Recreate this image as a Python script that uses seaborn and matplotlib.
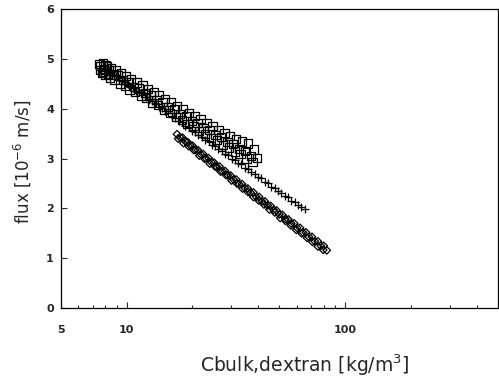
import numpy as np
import pandas as pd
import matplotlib
matplotlib.use("Agg")
import matplotlib.pyplot as plt
from matplotlib.ticker import NullFormatter, FixedLocator, LogLocator
import seaborn as sns

# Series 1: open squares
sq_c = [7.5, 7.8, 8.1, 8.5, 8.9, 9.4, 9.9, 10.5, 11.1, 11.8, 12.5, 13.3, 14.1,
        15.0, 16.0, 17.0, 18.1, 19.3, 20.5, 21.8, 23.2, 24.7, 26.3, 28.0,
        29.8, 31.7, 33.7, 35.9, 38.2,
        7.6, 7.9, 8.3, 8.7, 9.1, 9.6, 10.2, 10.8, 11.4, 12.1, 12.9, 13.7,
        14.6, 15.5, 16.5, 17.5, 18.7, 19.9, 21.1, 22.5, 23.9, 25.5, 27.1,
        28.9, 30.7, 32.7, 34.8, 37.0, 39.4,
        7.7, 8.0, 8.4, 8.8, 9.3, 9.8, 10.3, 10.9, 11.6, 12.3, 13.1, 13.9,
        14.8, 15.8, 16.8, 17.9, 19.0, 20.2, 21.5, 22.9, 24.3, 25.9, 27.6,
        29.4, 31.2, 33.2, 35.3, 37.6,
        7.6, 7.8, 8.0, 8.2]
sq_flux = [4.90, 4.91, 4.86, 4.82, 4.77, 4.72, 4.66, 4.60, 4.53, 4.47, 4.40,
           4.33, 4.27, 4.20, 4.13, 4.06, 3.99, 3.92, 3.86, 3.79, 3.72, 3.65,
           3.58, 3.51, 3.45, 3.40, 3.34, 3.30, 3.18,
           4.86, 4.80, 4.77, 4.69, 4.67, 4.58, 4.54, 4.44, 4.41, 4.31, 4.27,
           4.17, 4.13, 4.04, 3.99, 3.90, 3.85, 3.75, 3.72, 3.61, 3.58, 3.47,
           3.43, 3.33, 3.29, 3.19, 3.15, 3.05, 3.01,
           4.72, 4.68, 4.62, 4.58, 4.50, 4.46, 4.39, 4.34, 4.25, 4.21, 4.12,
           4.07, 3.98, 3.92, 3.83, 3.78, 3.70, 3.65, 3.56, 3.50, 3.42, 3.37,
           3.27, 3.22, 3.14, 3.09, 3.00, 2.93,
           4.78, 4.74, 4.88, 4.70]

# Series 2: plus signs
pl_c = [8.0, 8.3, 8.6, 8.9, 9.2, 9.5, 9.8, 10.1, 10.4, 10.7, 11.0, 11.4, 11.8,
        12.2, 12.6, 13.0, 13.5, 14.0, 14.5, 15.0, 15.5, 16.1, 16.7, 17.3,
        17.9, 18.5, 19.2, 19.9, 20.6, 21.3, 22.1, 22.9, 23.7, 24.5, 25.4,
        26.3, 27.2, 28.2, 29.2, 30.2, 31.3, 32.4, 33.5, 34.7, 35.9, 37.2,
        38.5, 39.9, 41.3, 42.8, 44.3, 45.9, 47.5, 49.2, 51.0, 52.8, 54.7,
        56.7, 58.7, 60.8, 63.0, 65.3]
pl_flux = [4.80, 4.75, 4.69, 4.66, 4.62, 4.56, 4.53, 4.49, 4.44, 4.41, 4.36,
           4.33, 4.27, 4.24, 4.18, 4.15, 4.11, 4.04, 4.01, 3.95, 3.91, 3.85,
           3.82, 3.75, 3.73, 3.66, 3.63, 3.56, 3.53, 3.47, 3.44, 3.37, 3.35,
           3.28, 3.25, 3.19, 3.16, 3.09, 3.07, 3.00, 2.98, 2.91, 2.89, 2.82,
           2.79, 2.73, 2.70, 2.63, 2.61, 2.54, 2.51, 2.44, 2.41, 2.35, 2.32,
           2.25, 2.22, 2.15, 2.13, 2.06, 2.03, 1.98]

# Series 3: open diamonds
dm_c = [17.0, 17.5, 18.0, 18.5, 19.0, 19.5, 20.0, 20.6, 21.2, 21.8, 22.4,
        23.0, 23.7, 24.4, 25.1, 25.8, 26.6, 27.4, 28.2, 29.0, 29.9, 30.8,
        31.7, 32.7, 33.7, 34.7, 35.8, 36.9, 38.0, 39.2, 40.4, 41.6, 42.9,
        44.2, 45.6, 47.0, 48.5, 50.0, 51.6, 53.2, 54.9, 56.6, 58.4, 60.2,
        62.1, 64.1, 66.1, 68.2, 70.4, 72.6, 74.9, 77.3, 79.7, 82.3,
        17.2, 18.2, 19.2, 20.3, 21.5, 22.7, 24.0, 25.4, 26.9, 28.5, 30.2,
        32.0, 33.9, 35.9, 38.0, 40.2, 42.5, 45.0, 47.6, 50.4, 53.3, 56.4,
        59.7, 63.2, 66.9, 70.8, 74.9, 79.3]
dm_flux = [3.49, 3.43, 3.42, 3.35, 3.33, 3.27, 3.26, 3.18, 3.17, 3.09, 3.09,
           3.01, 3.01, 2.93, 2.92, 2.84, 2.84, 2.75, 2.75, 2.67, 2.66, 2.58,
           2.58, 2.49, 2.49, 2.41, 2.40, 2.32, 2.32, 2.23, 2.23, 2.14, 2.14,
           2.06, 2.05, 1.97, 1.96, 1.88, 1.87, 1.79, 1.78, 1.70, 1.70, 1.61,
           1.61, 1.52, 1.52, 1.43, 1.43, 1.34, 1.34, 1.25, 1.25, 1.16,
           3.40, 3.31, 3.25, 3.17, 3.06, 3.00, 2.90, 2.84, 2.74, 2.67, 2.56,
           2.50, 2.40, 2.33, 2.23, 2.16, 2.08, 1.98, 1.92, 1.81, 1.75, 1.66,
           1.57, 1.50, 1.41, 1.33, 1.24, 1.17]

x_ticks = [5, 10, 100]
y_ticks = [0, 1, 2, 3, 4, 5, 6]

sns.set_style("ticks")
plt.rcParams["font.family"] = ["DejaVu Sans"]
plt.rcParams["xtick.direction"] = "in"
plt.rcParams["ytick.direction"] = "in"

fig = plt.figure(figsize=(4.99, 3.79), dpi=100)
ax = fig.add_axes([0.122, 0.187, 0.876, 0.789])

sq = pd.DataFrame({"c": sq_c, "flux": sq_flux})
pl = pd.DataFrame({"c": pl_c, "flux": pl_flux})
dm = pd.DataFrame({"c": dm_c, "flux": dm_flux})

sns.scatterplot(data=pl, x="c", y="flux", marker="+", s=38, color="black",
                linewidth=0.9, ax=ax, zorder=2)
sns.scatterplot(data=sq, x="c", y="flux", marker="s", s=36, facecolor="none",
                edgecolor="black", linewidth=0.9, ax=ax, zorder=3)
sns.scatterplot(data=dm, x="c", y="flux", marker="D", s=15, facecolor="none",
                edgecolor="black", linewidth=0.9, ax=ax, zorder=3)

ax.set_xscale("log")
ax.set_xlim(5, 500)
ax.set_ylim(0, 6)
ax.xaxis.set_major_locator(FixedLocator(x_ticks))
ax.set_xticklabels([str(v) for v in x_ticks])
ax.xaxis.set_minor_locator(LogLocator(base=10, subs=np.arange(2, 10)))
ax.xaxis.set_minor_formatter(NullFormatter())
ax.set_yticks(y_ticks)
ax.set_yticklabels([str(v) for v in y_ticks])

ax.tick_params(which="major", length=4, width=0.8, labelsize=8)
ax.tick_params(axis="y", which="major", pad=5)
ax.tick_params(axis="x", which="major", pad=12)
ax.tick_params(which="minor", length=2.5, width=0.8)
for lab in ax.get_xticklabels() + ax.get_yticklabels():
    lab.set_fontweight("bold")

for sp in ax.spines.values():
    sp.set_visible(True)
    sp.set_linewidth(0.9)
    sp.set_color("black")

ax.set_xlabel("Cbulk,dextran [kg/m$^3$]", fontsize=13.5)
ax.set_ylabel("flux [10$^{-6}$ m/s]", fontsize=12)
ax.xaxis.set_label_coords(0.558, -0.148)
ax.yaxis.set_label_coords(-0.064, 0.49)

fig.savefig("out.png", dpi=100)
